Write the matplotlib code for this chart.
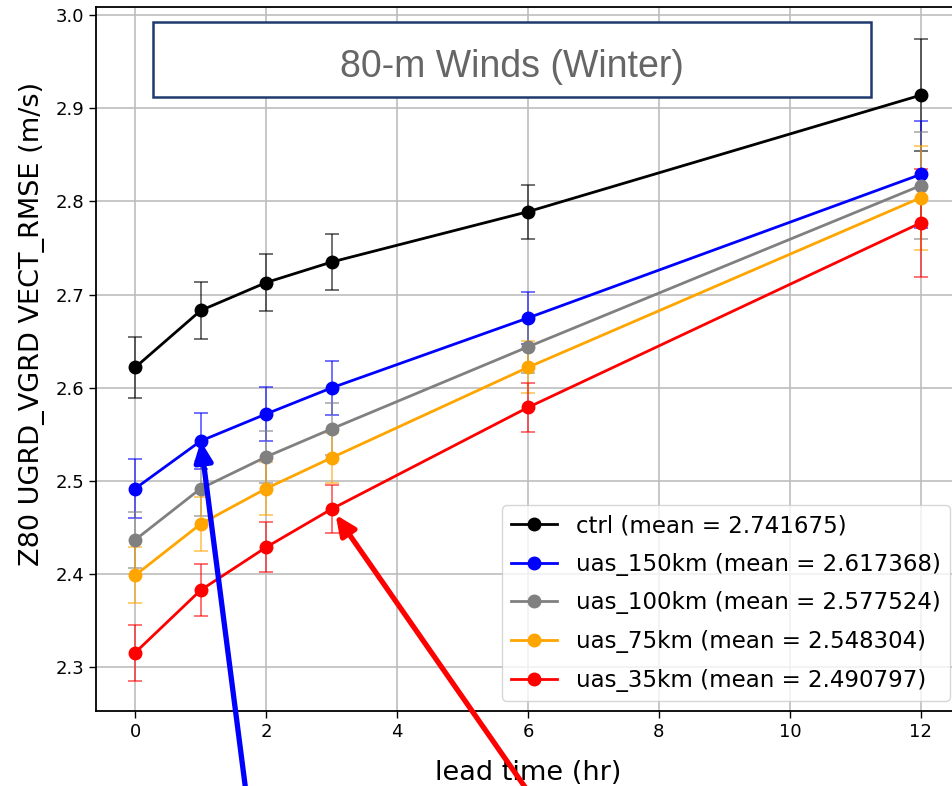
import matplotlib
matplotlib.use("Agg")
import matplotlib.pyplot as plt
from matplotlib.patches import Rectangle
from matplotlib.lines import Line2D

# ---- data ----
lead_time = [0, 1, 2, 3, 6, 12]
series_names = ["ctrl", "uas_150km", "uas_100km", "uas_75km", "uas_35km"]
series_means = ["2.741675", "2.617368", "2.577524", "2.548304", "2.490797"]
series_colors = ["black", "blue", "gray", "orange", "red"]

ctrl = [2.622, 2.683, 2.713, 2.735, 2.789, 2.914]
uas_150km = [2.492, 2.543, 2.572, 2.600, 2.675, 2.829]
uas_100km = [2.437, 2.492, 2.526, 2.556, 2.644, 2.817]
uas_75km = [2.399, 2.454, 2.492, 2.525, 2.622, 2.804]
uas_35km = [2.316, 2.383, 2.429, 2.470, 2.579, 2.777]

ctrl_err = [0.033, 0.031, 0.031, 0.030, 0.029, 0.060]
uas_150km_err = [0.032, 0.030, 0.029, 0.029, 0.028, 0.057]
uas_100km_err = [0.030, 0.030, 0.028, 0.028, 0.028, 0.057]
uas_75km_err = [0.030, 0.029, 0.028, 0.027, 0.028, 0.056]
uas_35km_err = [0.030, 0.028, 0.027, 0.026, 0.026, 0.058]

values = [ctrl, uas_150km, uas_100km, uas_75km, uas_35km]
errors = [ctrl_err, uas_150km_err, uas_100km_err, uas_75km_err, uas_35km_err]

x_ticks = [0, 2, 4, 6, 8, 10, 12]
y_ticks = [2.3, 2.4, 2.5, 2.6, 2.7, 2.8, 2.9, 3.0]
box_title = "80-m Winds (Winter)"
x_label = "lead time (hr)"
y_label = "Z80 UGRD_VGRD VECT_RMSE (m/s)"

# ---- figure ----
W, H = 952, 786
fig = plt.figure(figsize=(W / 100, H / 100), dpi=100)
ax = fig.add_axes([96 / W, (H - 711) / H, (960 - 96) / W, (711 - 7) / H])

handles = []
for name, mean, col, v, e in zip(series_names, series_means, series_colors, values, errors):
    ax.errorbar(lead_time, v, yerr=e, color=col, marker="o", markersize=9, lw=2.0,
                ecolor=matplotlib.colors.to_rgba(col, 0.65), elinewidth=1.2, capsize=5,
                capthick=1.2)
    handles.append(Line2D([], [], color=col, marker="o", markersize=9, lw=2.0,
                          label=f"{name} (mean = {mean})"))

ax.set_xlim(-0.6, 12.6)
ax.set_ylim(2.2533, 3.0086)
ax.set_xticks(x_ticks)
ax.set_yticks(y_ticks)
ax.tick_params(labelsize=13, width=1.0, length=5)
for s in ax.spines.values():
    s.set_linewidth(1.3)
ax.grid(True, color="#bdbdbd", lw=1.2)
ax.set_axisbelow(True)

ax.set_xlabel(x_label, fontsize=19.5, labelpad=14)
ax.set_ylabel(y_label, fontsize=19.5)
ax.yaxis.set_label_coords(-0.059, 0.55)

ax.legend(handles=handles, loc="lower right", fontsize=16.5, borderaxespad=0.45,
          handlelength=2.0, labelspacing=0.68, framealpha=0.8)

# title box overlay
fig.add_artist(Rectangle((153 / W, (H - 97) / H), (871 - 153) / W, (97 - 22) / H,
                         transform=fig.transFigure, facecolor="white",
                         edgecolor="#1f3a6e", lw=1.8, zorder=10))
fig.text(512 / W, (H - 67) / H, box_title, ha="center", va="center",
         fontsize=27, color="#666666", family="Liberation Sans", zorder=11)

# arrows
ax.annotate("", xy=(1, uas_150km[1]), xycoords="data",
            xytext=(247, -14), textcoords="figure pixels",
            arrowprops=dict(arrowstyle="-|>,head_length=0.6,head_width=0.27",
                            color="blue", lw=3.8, shrinkA=0, shrinkB=0,
                            mutation_scale=20),
            annotation_clip=False, zorder=12)
ax.annotate("", xy=(3, uas_35km[3]), xycoords="data",
            xytext=(534, -14), textcoords="figure pixels",
            arrowprops=dict(arrowstyle="-|>,head_length=0.6,head_width=0.27",
                            color="red", lw=3.8, shrinkA=0, shrinkB=5,
                            mutation_scale=20),
            annotation_clip=False, zorder=12)

fig.savefig("out.png", dpi=100)
